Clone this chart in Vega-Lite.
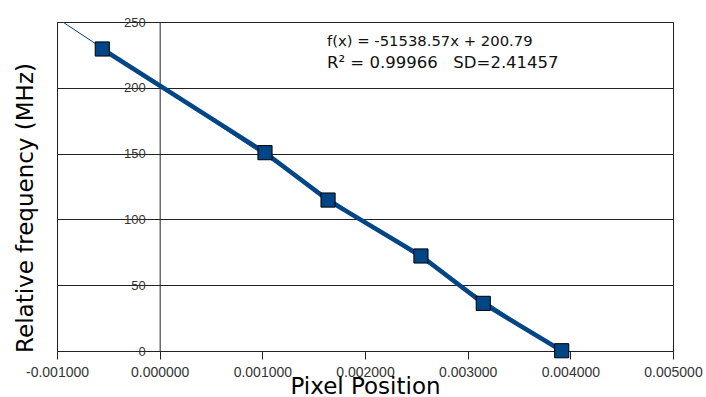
{
  "$schema": "https://vega.github.io/schema/vega-lite/v6.json",
  "width": 616,
  "height": 329,
  "autosize": "none",
  "padding": {"left": 57, "top": 22, "right": 33, "bottom": 46},
  "background": "white",
  "config": {"view": {"stroke": "#222", "strokeWidth": 1}},
  "datasets": {
    "points": [
      {"pos": -0.000559, "freq": 229.5},
      {"pos": 0.001026, "freq": 150.7},
      {"pos": 0.00164, "freq": 114.7},
      {"pos": 0.002545, "freq": 72.2},
      {"pos": 0.003152, "freq": 36.2},
      {"pos": 0.003916, "freq": 0.2}
    ]
  },
  "layer": [
    {
      "data": {"name": "points"},
      "transform": [{"regression": "freq", "on": "pos", "extent": [-0.001, 0.00392]}],
      "mark": {"type": "line", "color": "#004586", "strokeWidth": 1, "clip": true},
      "encoding": {
        "x": {
          "field": "pos", "type": "quantitative",
          "scale": {"domain": [-0.001, 0.005], "nice": false, "zero": false},
          "axis": {
            "values": [-0.001, 0, 0.001, 0.002, 0.003, 0.004, 0.005],
            "labelExpr": "replace(format(datum.value, '.6f'), '\u2212', '-')",
            "domain": false, "grid": false, "ticks": true, "tickSize": 8, "tickColor": "#222", "tickWidth": 1,
            "labelFont": "Liberation Sans", "labelFontSize": 14, "labelColor": "#333", "labelPadding": 6,
            "labelOverlap": false, "labelBound": false, "labelFlush": false,
            "title": "Pixel Position", "titleFont": "DejaVu Sans", "titleFontSize": 23, "titleFontWeight": "normal",
            "titleColor": "#000", "titleBaseline": "alphabetic", "titleY": 42
          }
        },
        "y": {
          "field": "freq", "type": "quantitative",
          "scale": {"domain": [0, 250], "nice": false, "zero": false},
          "axis": {
            "values": [0, 50, 100, 150, 200, 250],
            "offset": -102.67,
            "domain": true, "domainColor": "#222",
            "ticks": false, "tickSize": 0,
            "grid": true, "gridColor": "#222", "gridOpacity": 1, "gridWidth": 1,
            "labelFont": "Liberation Sans", "labelFontSize": 13, "labelColor": "#333", "labelPadding": 14.5,
            "title": "Relative frequency (MHz)", "titleFont": "DejaVu Sans", "titleFontSize": 23, "titleFontWeight": "normal",
            "titleColor": "#000", "titleX": -126.7, "titleY": 185.5, "titleAngle": -90, "titleAlign": "center", "titleBaseline": "alphabetic"
          }
        }
      }
    },
    {
      "data": {"name": "points"},
      "mark": {"type": "line", "color": "#004586", "strokeWidth": 4.5},
      "encoding": {
        "x": {"field": "pos", "type": "quantitative"},
        "y": {"field": "freq", "type": "quantitative"}
      }
    },
    {
      "data": {"name": "points"},
      "mark": {"type": "point", "shape": "square", "filled": true, "size": 200, "fill": "#004586", "stroke": "#000", "strokeWidth": 1, "opacity": 1},
      "encoding": {
        "x": {"field": "pos", "type": "quantitative"},
        "y": {"field": "freq", "type": "quantitative"}
      }
    },
    {
      "data": {"values": [{"label": "f(x) = -51538.57x + 200.79"}]},
      "mark": {"type": "text", "align": "left", "baseline": "alphabetic", "font": "DejaVu Sans", "fontSize": 14.8, "color": "#111"},
      "encoding": {
        "x": {"datum": 0.00163, "type": "quantitative"},
        "y": {"datum": 231.7, "type": "quantitative"},
        "text": {"field": "label"}
      }
    },
    {
      "data": {"values": [{"label": "R² = 0.99966\u00a0\u00a0\u00a0SD=2.41457"}]},
      "mark": {"type": "text", "align": "left", "baseline": "alphabetic", "font": "DejaVu Sans", "fontSize": 16.5, "color": "#111"},
      "encoding": {
        "x": {"datum": 0.00163, "type": "quantitative"},
        "y": {"datum": 214.8, "type": "quantitative"},
        "text": {"field": "label"}
      }
    }
  ]
}
